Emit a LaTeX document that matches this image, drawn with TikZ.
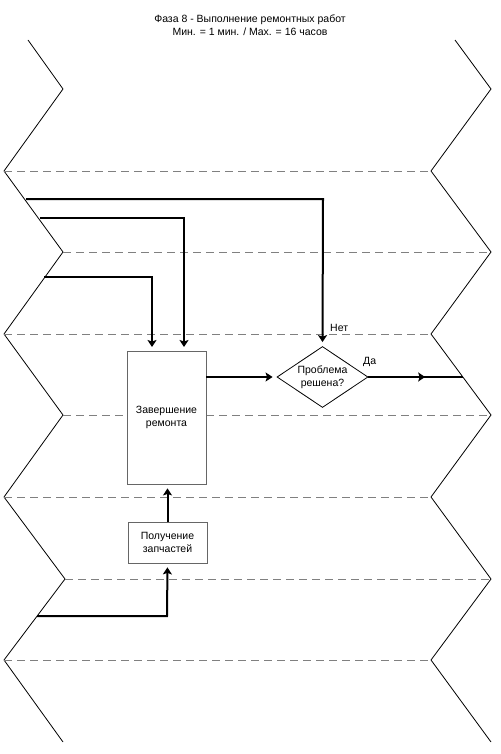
\documentclass[tikz,border=0pt]{standalone}
\usepackage{fontspec}
\setmainfont{Liberation Sans}
\usetikzlibrary{arrows.meta,shapes.geometric,decorations.markings}
\begin{document}
\begin{tikzpicture}[x=1pt,y=-1pt,
  zig/.style={line width=0.8pt,black},
  lane/.style={gray,line width=0.8pt,dash pattern=on 8pt off 5pt},
  flow/.style={line width=2pt,-{Stealth[length=7pt,width=9pt,inset=1.5pt]},shorten >=4pt},
  plain/.style={line width=2pt},
  box/.style={draw=gray!80!black,fill=white,line width=0.8pt,align=center,font=\fontsize{10.5}{13}\selectfont,inner sep=0pt},
  lbl/.style={font=\fontsize{10.5}{13}\selectfont,inner sep=0pt},
  midarrow/.style={decoration={markings,mark=at position #1 with {\arrow{Stealth[length=7pt,width=9pt,inset=1.5pt]}}},postaction={decorate}}
]
\useasboundingbox (0,0) rectangle (500,754);
% title
\node[lbl,align=center,font=\fontsize{10.5}{13.5}\selectfont] (title) at (250,25) {Фаза 8 - Выполнение ремонтных работ\\Мин. = 1 мин. / Max. = 16 часов};
% zigzags
\draw[zig] (28,40) -- (63,89) -- (4,171) -- (63,252) -- (4,334) -- (63,415) -- (4,497) -- (65,579) -- (4,660) -- (63,742);
\draw[zig] (455,40) -- (491,89) -- (431,171) -- (491,252) -- (431,334) -- (491,415) -- (431,497) -- (491,579) -- (431,660) -- (491,742);
% lanes
\draw[lane] (4,171) -- (431,171);
\draw[lane] (63,252) -- (491,252);
\draw[lane] (4,334) -- (431,334);
\draw[lane] (63,415) -- (491,415);
\draw[lane] (4,497) -- (431,497);
\draw[lane] (65,579) -- (491,579);
\draw[lane] (4,660) -- (431,660);
% nodes
\node[box,minimum width=79pt,minimum height=133pt] (repair) at (166.5,417.5) {Завершение\\ремонта};
\node[box,minimum width=79pt,minimum height=41pt] (parts) at (167.5,542.5) {Получение\\запчастей};
\node[diamond,draw=black,fill=white,line width=0.8pt,inner sep=0pt,minimum width=91pt,minimum height=61pt] (dec) at (322.5,377) {};
\node[lbl,align=center] (dectext) at (dec.center) {Проблема\\решена?};
\node[lbl,anchor=west] (no) at (330,328) {Нет};
\node[lbl,anchor=west] (yes) at (363,362) {Да};
% connector end points
\coordinate (in1) at (26,199);
\coordinate (in2) at (40,218);
\coordinate (in3) at (44,277);
\coordinate (in4) at (37,616);
\coordinate (out) at (463,377);
% connectors
\draw[flow] (in1) -- (323,199) -- (dec.north);
\draw[flow] (in2) -- (184,218) -- (184,351);
\draw[flow] (in3) -- (152,277) -- (152,351);
\draw[flow] (repair.east |- dec.west) -- (dec.west);
\draw[plain,midarrow=0.6] (dec.east) -- (out);
\draw[flow] (parts.north) -- (parts.north |- repair.south);
\draw[flow] (in4) -- (167,616) -- (parts.south);
\end{tikzpicture}
\end{document}
